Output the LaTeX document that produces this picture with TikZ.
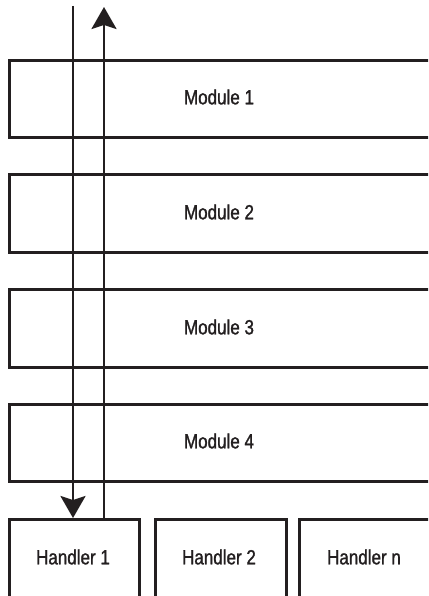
\documentclass[tikz,border=0pt]{standalone}
\usepackage{fontspec}
\setmainfont{Liberation Sans}[FakeStretch=0.83,FakeBold=1.3]
\usetikzlibrary{arrows.meta}
\definecolor{ink}{HTML}{231F20}
\begin{document}
\begin{tikzpicture}[x=1pt,y=-1pt,
  boxline/.style={draw=ink, line width=2.6pt},
  modbox/.style={boxline, rectangle, inner sep=0pt},
  lbl/.style={text=ink, font=\fontsize{20.5}{24}\selectfont},
  flow/.style={draw=ink, line width=2.6pt, -{Stealth[length=22pt,width=25pt,inset=4pt]}}]
\useasboundingbox (0,0) rectangle (428,596);
\fill[white] (0,0) rectangle (428,596);
\clip (0,0) rectangle (428,596);
% modules (extend past right edge)
\node[modbox, minimum width=440pt, minimum height=77pt, anchor=north west] (m1) at (8,59) {};
\node[modbox, minimum width=440pt, minimum height=78pt, anchor=north west] (m2) at (8,173) {};
\node[modbox, minimum width=440pt, minimum height=78pt, anchor=north west] (m3) at (8,288) {};
\node[modbox, minimum width=440pt, minimum height=77pt, anchor=north west] (m4) at (8,403) {};
\node[lbl] (t1) at (219,97) {Module 1};
\node[lbl] (t2) at (219,212) {Module 2};
\node[lbl] (t3) at (219,327) {Module 3};
\node[lbl] (t4) at (219,441) {Module 4};
% handlers (extend past bottom edge)
\node[modbox, minimum width=130pt, minimum height=100pt, anchor=north west] (h1) at (8,518) {};
\node[modbox, minimum width=131pt, minimum height=100pt, anchor=north west] (h2) at (154,518) {};
\node[modbox, minimum width=150pt, minimum height=100pt, anchor=north west] (h3) at (298,518) {};
\node[lbl] (th1) at (73,557) {Handler 1};
\node[lbl] (th2) at (219,557) {Handler 2};
\node[lbl] (th3) at (364,557) {Handler n};
% flow arrows
\coordinate (dtop) at (73,6);
\coordinate (utop) at (104,7);
\draw[flow] (dtop) -- (h1.north west -| dtop);
\draw[flow] (h1.north west -| utop) -- (utop);
\end{tikzpicture}
\end{document}
